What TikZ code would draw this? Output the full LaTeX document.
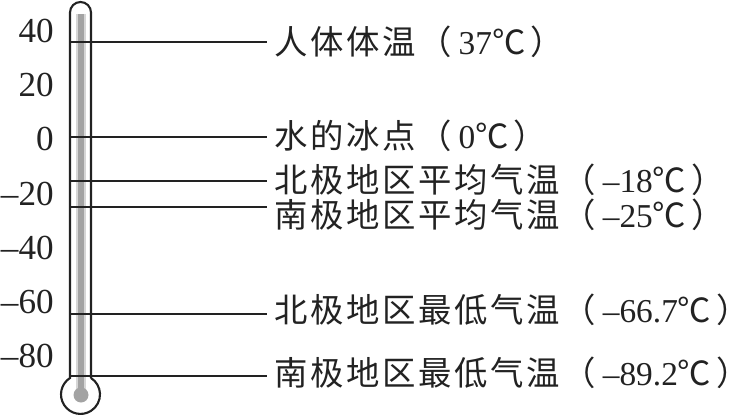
\documentclass[tikz,border=0pt]{standalone}
\usepackage{fontspec}
\setmainfont{Liberation Serif}
\newfontfamily\cjk[LetterSpace=8]{Noto Sans CJK SC}
\usepackage{xcolor}
\definecolor{mercury}{HTML}{A3A3A3}
\definecolor{glassline}{HTML}{222222}
\usepackage{tikz}
\usetikzlibrary{positioning, calc}

\newcommand{\degc}[1]{\hspace{0.2em}#1{\cjk ℃}\hspace{0.15em}\rlap{\cjk ）}\hspace{0.4em}}

\begin{document}
\begin{tikzpicture}[x=0.02cm, y=0.02cm,
  tick/.style={anchor=east, inner sep=0pt, text=glassline,
               font=\fontsize{20}{24}\selectfont},
  note/.style={anchor=west, inner sep=0pt, text=glassline,
               font=\fontsize{19}{22}\selectfont},
  refline/.style={line width=0.9pt, glassline, shorten >=4pt},
  glass/.style={line width=1.2pt, glassline}]

  \useasboundingbox (0,0) rectangle (750,-415);

  % scale numbers
  \foreach \v/\t [count=\i from 0] in {40/40, 20/20, 0/0, -20/–20, -40/–40, -60/–60, -80/–80}
    \node[tick] (tick\i) at (54,{-31-54.2*\i}) {\t};

  % mercury column
  \draw[mercury!45, line width=5.2pt] (81,-14) -- (81,-392);
  \draw[mercury, line width=3.6pt] (81,-14) -- (81,-392);
  \fill[mercury] (81,-395) circle (7.5);

  % glass tube and bulb
  \draw[glass] (91,-378) -- (91,-12.5) arc[start angle=0, end angle=180, radius=10.5]
    -- (70,-378) arc[start angle=122.6, end angle=417.4, radius=19.5];

  % points on the tube
  \coordinate (t37)  at (70,-42);
  \coordinate (t0)   at (70,-137);
  \coordinate (t18)  at (70,-181);
  \coordinate (t25)  at (70,-207);
  \coordinate (t667) at (70,-314);
  \coordinate (t892) at (70,-376);

  % labels
  \node[note] (body)      at (274,-42)  {{\cjk 人体体温（}\degc{37}};
  \node[note] (freeze)    at (274,-136) {{\cjk 水的冰点（}\degc{0}};
  \node[note] (northavg)  at (274,-180) {{\cjk 北极地区平均气温（}\degc{–18}};
  \node[note] (southavg)  at (274,-215) {{\cjk 南极地区平均气温（}\degc{–25}};
  \node[note] (northmin)  at (274,-310) {{\cjk 北极地区最低气温（}\degc{–66.7}};
  \node[note] (southmin)  at (274,-373) {{\cjk 南极地区最低气温（}\degc{–89.2}};

  \draw[refline] (t37)  -- (t37 -| body.west);
  \draw[refline] (t0)   -- (t0 -| freeze.west);
  \draw[refline] (t18)  -- (t18 -| northavg.west);
  \draw[refline] (t25)  -- (t25 -| southavg.west);
  \draw[refline] (t667) -- (t667 -| northmin.west);
  \draw[refline] (t892) -- (t892 -| southmin.west);

\end{tikzpicture}
\end{document}
